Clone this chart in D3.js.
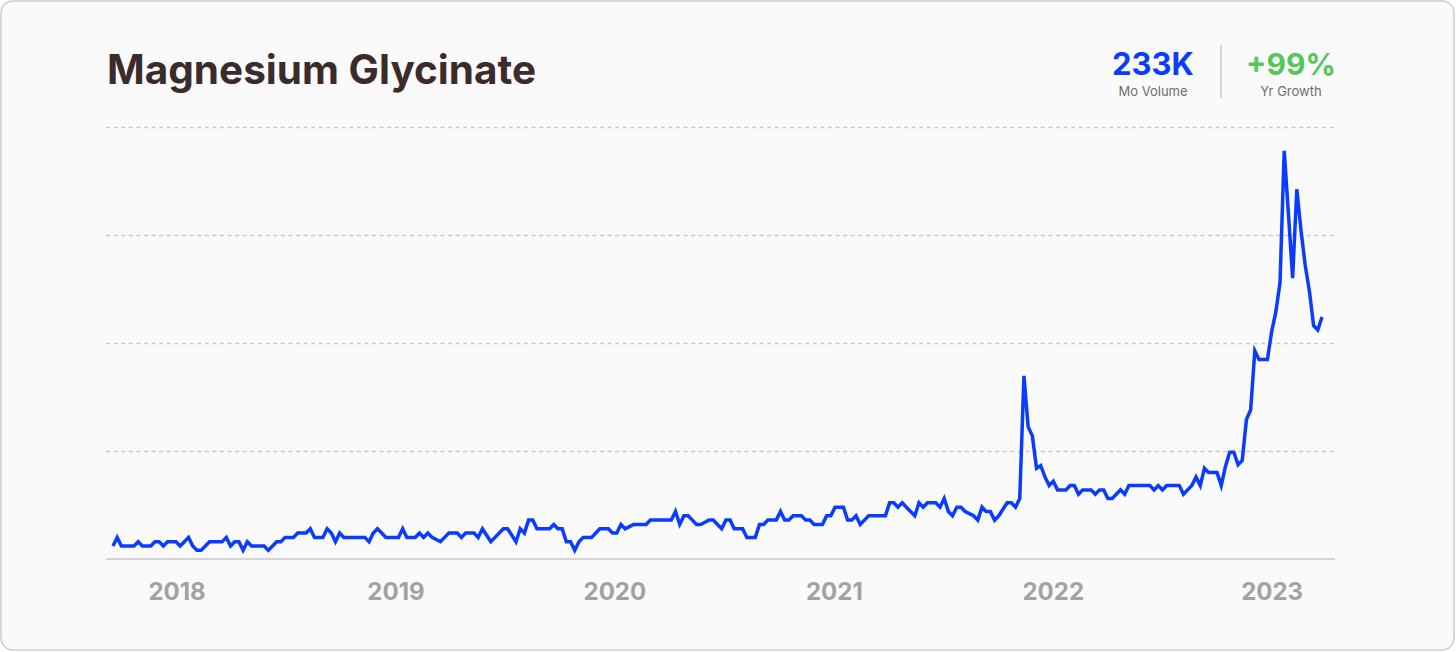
<!DOCTYPE html>
<html>
<head>
<meta charset="utf-8">
<script src="https://cdn.jsdelivr.net/npm/d3@7"></script>
<style>
  html, body { margin: 0; padding: 0; background: #ffffff; }
  svg { display: block; font-family: Inter, "Noto Sans", sans-serif; }
</style>
</head>
<body>
<svg id="chart" width="1456" height="652"></svg>
<script>
// chart data, weekly search interest (0-100)
var title = "Magnesium Glycinate";
var firstWeek = new Date(2017, 8, 17);
var values = [
  3, 5, 3, 3, 3, 3, 4, 3, 3, 3,
  4, 4, 3, 4, 4, 4, 3, 4, 5, 3,
  2, 2, 3, 4, 4, 4, 4, 5, 3, 4,
  4, 2, 4, 3, 3, 3, 3, 2, 3, 4,
  4, 5, 5, 5, 6, 6, 6, 7, 5, 5,
  5, 7, 6, 4, 6, 5, 5, 5, 5, 5,
  5, 4, 6, 7, 6, 5, 5, 5, 5, 7,
  5, 5, 5, 6, 5, 6, 5, 4.5, 4, 5,
  6, 6, 6, 5, 6, 6, 6, 5, 7, 5.5,
  4, 5, 6, 7, 7, 5.5, 4, 7, 6, 9,
  9, 7, 7, 7, 7, 8, 7, 7, 4, 4,
  2, 4, 5, 5, 5, 6, 7, 7, 7, 6,
  6, 8, 7, 7.5, 8, 8, 8, 8, 9, 9,
  9, 9, 9, 9, 11, 8, 10, 10, 9, 8,
  8, 8.5, 9, 9, 8, 7, 9, 9, 7, 7,
  7, 5, 5, 5, 8, 8, 9, 9, 9, 11,
  9, 9, 10, 10, 10, 9, 9, 8, 8, 8,
  10, 10, 12, 12, 12, 9, 9, 10, 8, 9,
  10, 10, 10, 10, 10, 13, 13, 12, 13, 12,
  11, 10, 13, 12, 13, 13, 13, 12, 14, 11,
  10, 12, 12, 11, 10.5, 10, 9, 12, 11, 11,
  9, 10, 11.5, 13, 13, 12, 14, 42.4, 30.6, 28.5,
  21, 21.6, 19, 17, 18, 16, 16, 16, 17, 17,
  15, 16, 16, 16, 15, 16, 16, 14, 14, 15,
  16, 15, 17, 17, 17, 17, 17, 17, 16, 17,
  16, 17, 17, 17, 17, 15, 16, 17, 19, 17,
  21, 20, 20, 20, 17, 21.4, 24.7, 24.7, 21.8, 22.8,
  32.3, 34.5, 48.2, 46.2, 46.2, 46.2, 52.6, 57.2, 64, 94.5,
  80, 65, 85.6, 76, 68, 62, 54, 53, 56
];
var years = [2018, 2019, 2020, 2021, 2022, 2023];
var gridValues = [25, 50, 75, 100];
var statNumbers = ["233K", "+99%"];
var statLabels = ["Mo Volume", "Yr Growth"];

var data = values.map((v, i) => ({date: d3.timeWeek.offset(firstWeek, i), value: v}));

var svg = d3.select("#chart");

// card
svg.append("rect")
  .attr("x", 1).attr("y", 1)
  .attr("width", 1453).attr("height", 649)
  .attr("rx", 12)
  .attr("fill", "#fafafa")
  .attr("stroke", "#cdcdcd")
  .attr("stroke-width", 1.5);

// title
svg.append("text")
  .attr("x", 107).attr("y", 84)
  .attr("font-size", 40.5)
  .attr("font-weight", 700)
  .attr("fill", "#3b2b2b")
  .text(title);

// stats top right
var statX = [1153, 1291];
var statColors = ["#0a3cff", "#55c65a"];
var statSizes = [31, 30];
statNumbers.forEach((s, i) => {
  svg.append("text")
    .attr("x", statX[i]).attr("y", 75)
    .attr("text-anchor", "middle")
    .attr("font-size", statSizes[i])
    .attr("font-weight", 700)
    .attr("fill", statColors[i])
    .text(s);
  svg.append("text")
    .attr("x", statX[i]).attr("y", 96)
    .attr("text-anchor", "middle")
    .attr("font-size", 13)
    .attr("fill", "#6e6e6e")
    .text(statLabels[i]);
});
svg.append("line")
  .attr("x1", 1221).attr("x2", 1221)
  .attr("y1", 45).attr("y2", 98)
  .attr("stroke", "#c8c8c8")
  .attr("stroke-width", 1.5);

// scales
var x = d3.scaleTime()
  .domain([data[0].date, data[data.length - 1].date])
  .range([113, 1322]);
var y = d3.scaleLinear()
  .domain([0, 100])
  .range([559, 127]);

// dashed grid
var grid = svg.append("g")
  .attr("transform", "translate(106,0)")
  .call(d3.axisLeft(y).tickValues(gridValues).tickSize(-1229).tickFormat(""));
grid.select(".domain").remove();
grid.selectAll("line")
  .attr("stroke", "#c9c9c9")
  .attr("stroke-width", 1.4)
  .attr("stroke-dasharray", "4,3.6");

// baseline
svg.append("line")
  .attr("x1", 106).attr("x2", 1335)
  .attr("y1", y(0)).attr("y2", y(0))
  .attr("stroke", "#c8c8c8")
  .attr("stroke-width", 1.5);

// year labels
var xAxis = svg.append("g")
  .attr("transform", "translate(0,580)")
  .call(d3.axisBottom(x)
    .tickValues(years.map(yr => new Date(yr, 0, 1)))
    .tickFormat(d3.timeFormat("%Y"))
    .tickSize(0));
xAxis.select(".domain").remove();
xAxis.selectAll("text")
  .attr("dy", "0.71em")
  .attr("y", 3)
  .attr("font-family", "Inter, sans-serif")
  .attr("font-size", 24)
  .attr("font-weight", 700)
  .attr("fill", "#a2a2a2");

// line
var line = d3.line()
  .x(d => x(d.date))
  .y(d => y(d.value));

svg.append("path")
  .datum(data)
  .attr("d", line)
  .attr("fill", "none")
  .attr("stroke", "#0a3cff")
  .attr("stroke-width", 3.5);
</script>
</body>
</html>
